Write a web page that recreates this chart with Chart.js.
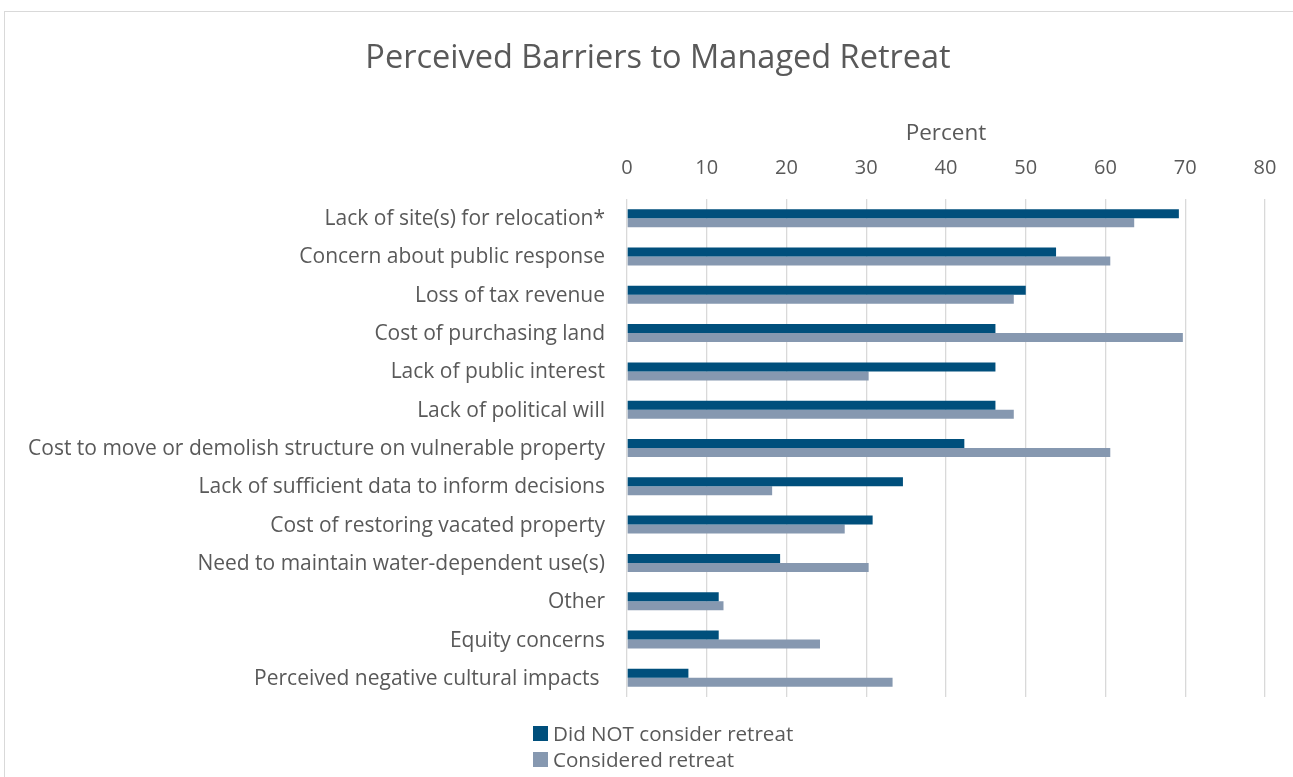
<!DOCTYPE html>
<html>
<head>
<meta charset="utf-8">
<script src="https://cdn.jsdelivr.net/npm/chart.js@4.4.0/dist/chart.umd.min.js"></script>
<style>
    body { margin: 0; background: #fff; overflow: hidden; font-family: "Open Sans", sans-serif; }
    #frame {
        position: absolute; left: 4px; top: 11px;
        width: 1306px; height: 775px;
        border: 1px solid #d9d9d9; box-sizing: border-box;
    }
    #chartBox { position: absolute; left: 0; top: 0; width: 1304px; height: 773px; }
    #legend { position: absolute; left: 528px; top: 708px; color: #595959; font-size: 20.6px; }
    #legend div { display: flex; align-items: center; height: 26px; white-space: nowrap; }
    #legend span.sw { display: inline-block; width: 15px; height: 15px; margin-right: 5px; }
</style>
</head>
<body>
<div id="frame">
    <div id="chartBox"><canvas id="barriersChart"></canvas></div>
    <div id="legend"></div>
</div>
<script>
const categories = [
    'Lack of site(s) for relocation*',
    'Concern about public response',
    'Loss of tax revenue',
    'Cost of purchasing land',
    'Lack of public interest',
    'Lack of political will',
    'Cost to move or demolish structure on vulnerable property',
    'Lack of sufficient data to inform decisions',
    'Cost of restoring vacated property',
    'Need to maintain water-dependent use(s)',
    'Other',
    'Equity concerns',
    'Perceived negative cultural impacts '
];
const didNotConsider = [69.2, 53.8, 50.0, 46.2, 46.2, 46.2, 42.3, 34.6, 30.8, 19.2, 11.5, 11.5, 7.7];
const considered = [63.6, 60.6, 48.5, 69.7, 30.3, 48.5, 60.6, 18.2, 27.3, 30.3, 12.1, 24.2, 33.3];
const xTicks = [0, 10, 20, 30, 40, 50, 60, 70, 80];

const textColor = '#595959';
const gridColor = '#d9d9d9';

Chart.defaults.font.family = '"Open Sans", sans-serif';
Chart.defaults.color = textColor;

// the title in the original sits centred on the whole frame, not on the plot box
const titleShift = {
    id: 'titleShift',
    afterLayout(chart) {
        if (chart.titleBlock) chart.titleBlock.left = 46;
    }
};

const ctx = document.getElementById('barriersChart').getContext('2d');
const barriersChart = new Chart(ctx, {
    type: 'bar',
    data: {
        labels: categories,
        datasets: [
            {
                label: 'Did NOT consider retreat',
                data: didNotConsider,
                backgroundColor: '#004f7c',
                borderWidth: 0
            },
            {
                label: 'Considered retreat',
                data: considered,
                backgroundColor: '#8698b0',
                borderWidth: 0
            }
        ]
    },
    options: {
        indexAxis: 'y',
        responsive: true,
        maintainAspectRatio: false,
        animation: false,
        layout: { padding: { left: 0, right: 44, top: 0, bottom: 88 } },
        plugins: {
            legend: { display: false },
            tooltip: { enabled: false },
            title: {
                display: true,
                text: 'Perceived Barriers to Managed Retreat',
                color: textColor,
                font: { size: 32.5, weight: 'normal' },
                padding: { top: 27, bottom: 0 }
            }
        },
        datasets: {
            bar: { categoryPercentage: 0.47, barPercentage: 1.0 }
        },
        scales: {
            x: {
                position: 'top',
                min: 0,
                max: 80,
                afterBuildTicks: (scale) => {
                    scale.ticks = xTicks.map(v => ({ value: v }));
                },
                afterFit: (scale) => { scale.height = 121; },
                grid: { color: gridColor, drawTicks: false, lineWidth: 1.3 },
                border: { display: false },
                ticks: { padding: 19, font: { size: 20 }, color: textColor },
                title: {
                    display: true,
                    text: 'Percent',
                    color: textColor,
                    font: { size: 22.5 },
                    padding: { top: 42, bottom: 0 }
                }
            },
            y: {
                afterFit: (scale) => { scale.width = 622; },
                grid: { display: false, drawTicks: false },
                border: { display: false },
                ticks: { padding: 22, labelOffset: 1, font: { size: 21 }, color: textColor, autoSkip: false }
            }
        }
    },
    plugins: [titleShift]
});

// html legend, stacked like the original
const legendEl = document.getElementById('legend');
barriersChart.data.datasets.forEach(ds => {
    const row = document.createElement('div');
    row.innerHTML = '<span class="sw" style="background:' + ds.backgroundColor + '"></span>' + ds.label;
    legendEl.appendChild(row);
});
</script>
</body>
</html>
